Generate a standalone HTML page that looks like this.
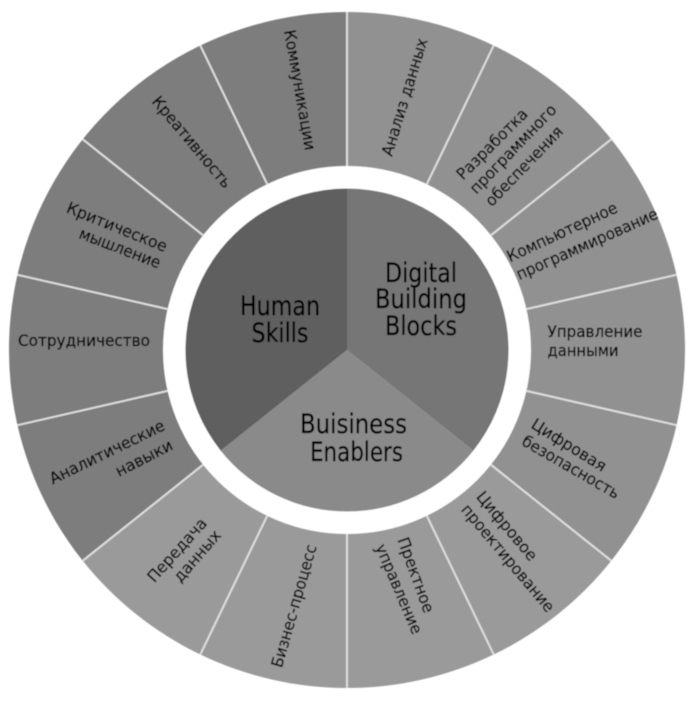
<!DOCTYPE html>
<html lang="ru">
<head>
<meta charset="utf-8">
<title>Diagram</title>
<style>
html,body{margin:0;padding:0;background:#fff;width:700px;height:709px;overflow:hidden}
svg{display:block}
text{font-family:"DejaVu Sans","Liberation Sans",sans-serif;fill:#000;stroke:#000;stroke-width:.25px;text-anchor:middle}
.s{font-size:16px}
.b{font-size:27px}
</style>
</head>
<body>
<svg width="700" height="709" viewBox="0 0 700 709" xmlns="http://www.w3.org/2000/svg">
<defs>
<filter id="soft" x="-5%" y="-5%" width="110%" height="110%"><feGaussianBlur stdDeviation="0.45"/></filter>
</defs>
<g filter="url(#soft)">
<!-- outer ring -->
<path d="M347 350 L347 12 A338 338 0 0 1 611.3 560.7 Z" fill="#919191"/>
<path d="M347 350 L611.3 560.7 A338 338 0 0 1 82.7 560.7 Z" fill="#9a9a9a"/>
<path d="M347 350 L82.7 560.7 A338 338 0 0 1 347 12 Z" fill="#7d7d7d"/>
<circle cx="347" cy="350" r="184" fill="#fff"/>
<!-- separators -->
<g stroke="#dedede" stroke-width="2" fill="none">
<line x1="347" y1="166" x2="347" y2="12"/>
<line x1="426.8" y1="184.2" x2="493.7" y2="45.5"/>
<line x1="490.9" y1="235.3" x2="611.2" y2="139.3"/>
<line x1="526.4" y1="309.1" x2="676.5" y2="274.8"/>
<line x1="526.4" y1="390.9" x2="676.5" y2="425.2"/>
<line x1="490.9" y1="464.7" x2="611.2" y2="560.7"/>
<line x1="426.8" y1="515.8" x2="493.7" y2="654.5"/>
<line x1="347" y1="534" x2="347" y2="688"/>
<line x1="267.2" y1="515.8" x2="200.3" y2="654.5"/>
<line x1="203.1" y1="464.7" x2="82.8" y2="560.7"/>
<line x1="167.6" y1="390.9" x2="17.5" y2="425.2"/>
<line x1="167.6" y1="309.1" x2="17.5" y2="274.8"/>
<line x1="203.1" y1="235.3" x2="82.8" y2="139.3"/>
<line x1="267.2" y1="184.2" x2="200.3" y2="45.5"/>
</g>
<!-- inner pie -->
<path d="M347 350 L347 188.5 A161.5 161.5 0 0 1 473.3 450.7 Z" fill="#767676"/>
<path d="M347 350 L473.3 450.7 A161.5 161.5 0 0 1 220.7 450.7 Z" fill="#8a8a8a"/>
<path d="M347 350 L220.7 450.7 A161.5 161.5 0 0 1 347 188.5 Z" fill="#5f5f5f"/>

<!-- centre labels -->
<text class="b" x="421" y="282" textLength="72" lengthAdjust="spacingAndGlyphs">Digital</text>
<text class="b" x="421" y="308" textLength="92" lengthAdjust="spacingAndGlyphs">Building</text>
<text class="b" x="421" y="335" textLength="72" lengthAdjust="spacingAndGlyphs">Blocks</text>
<text class="b" x="280" y="315" textLength="80" lengthAdjust="spacingAndGlyphs">Human</text>
<text class="b" x="280" y="342" textLength="57" lengthAdjust="spacingAndGlyphs">Skills</text>
<text class="b" x="353.500" y="433" textLength="107" lengthAdjust="spacingAndGlyphs">Buisiness</text>
<text class="b" x="356.500" y="461" textLength="93" lengthAdjust="spacingAndGlyphs">Enablers</text>

<!-- ring labels -->
<g>
<text class="s" transform="translate(404.500 97) rotate(-73)" dy="5.500" textLength="122" lengthAdjust="spacingAndGlyphs">Анализ данных</text>
<text class="s" transform="translate(492 144) rotate(-45)" dy="5.500" textLength="93" lengthAdjust="spacingAndGlyphs">Разработка</text>
<text class="s" transform="translate(513 149) rotate(-46)" dy="5.500" textLength="117" lengthAdjust="spacingAndGlyphs">программного</text>
<text class="s" transform="translate(524 166) rotate(-46)" dy="5.500" textLength="104" lengthAdjust="spacingAndGlyphs">обеспечения</text>
<text class="s" transform="translate(562 232) rotate(-25)" dy="5.500" textLength="120" lengthAdjust="spacingAndGlyphs">Компьютерное</text>
<text class="s" transform="translate(587 244) rotate(-24)" dy="5.500" textLength="153" lengthAdjust="spacingAndGlyphs">программирование</text>
<text class="s" x="595" y="337" textLength="95" lengthAdjust="spacingAndGlyphs">Управление</text>
<text class="s" x="583" y="356" textLength="71" lengthAdjust="spacingAndGlyphs">данными</text>
<text class="s" transform="translate(569 445) rotate(32)" dy="5.500" textLength="85" lengthAdjust="spacingAndGlyphs">Цифровая</text>
<text class="s" transform="translate(571 467) rotate(30)" dy="5.500" textLength="110" lengthAdjust="spacingAndGlyphs">безопасность</text>
<text class="s" transform="translate(507 526) rotate(50)" dy="5.500" textLength="85" lengthAdjust="spacingAndGlyphs">Цифровое</text>
<text class="s" transform="translate(508 558) rotate(50)" dy="5.500" textLength="135" lengthAdjust="spacingAndGlyphs">проектирование</text>
<text class="s" transform="translate(416 575) rotate(70)" dy="5.500" textLength="79" lengthAdjust="spacingAndGlyphs">Пректное</text>
<text class="s" transform="translate(399 589) rotate(67)" dy="5.500" textLength="96" lengthAdjust="spacingAndGlyphs">управление</text>
<text class="s" transform="translate(294 606) rotate(-74)" dy="5.500" textLength="127" lengthAdjust="spacingAndGlyphs">Бизнес-процесс</text>
<text class="s" transform="translate(177 550) rotate(-48)" dy="5.500" textLength="80" lengthAdjust="spacingAndGlyphs">Передача</text>
<text class="s" transform="translate(197 556) rotate(-49)" dy="5.500" textLength="63" lengthAdjust="spacingAndGlyphs">данных</text>
<text class="s" transform="translate(107 452) rotate(-26)" dy="5.500" textLength="126" lengthAdjust="spacingAndGlyphs">Аналитические</text>
<text class="s" transform="translate(144 458) rotate(-27)" dy="5.500" textLength="62" lengthAdjust="spacingAndGlyphs">навыки</text>
<text class="s" x="84" y="346" textLength="132" lengthAdjust="spacingAndGlyphs">Сотрудничество</text>
<text class="s" transform="translate(117 227) rotate(22)" dy="5.500" textLength="107" lengthAdjust="spacingAndGlyphs">Критическое</text>
<text class="s" transform="translate(120 248) rotate(21)" dy="5.500" textLength="86" lengthAdjust="spacingAndGlyphs">мышление</text>
<text class="s" transform="translate(192 142) rotate(50)" dy="5.500" textLength="114" lengthAdjust="spacingAndGlyphs">Креативность</text>
<text class="s" transform="translate(300 90) rotate(80)" dy="5.500" textLength="122" lengthAdjust="spacingAndGlyphs">Коммуникации</text>
</g>
</g>
</svg>
</body>
</html>
